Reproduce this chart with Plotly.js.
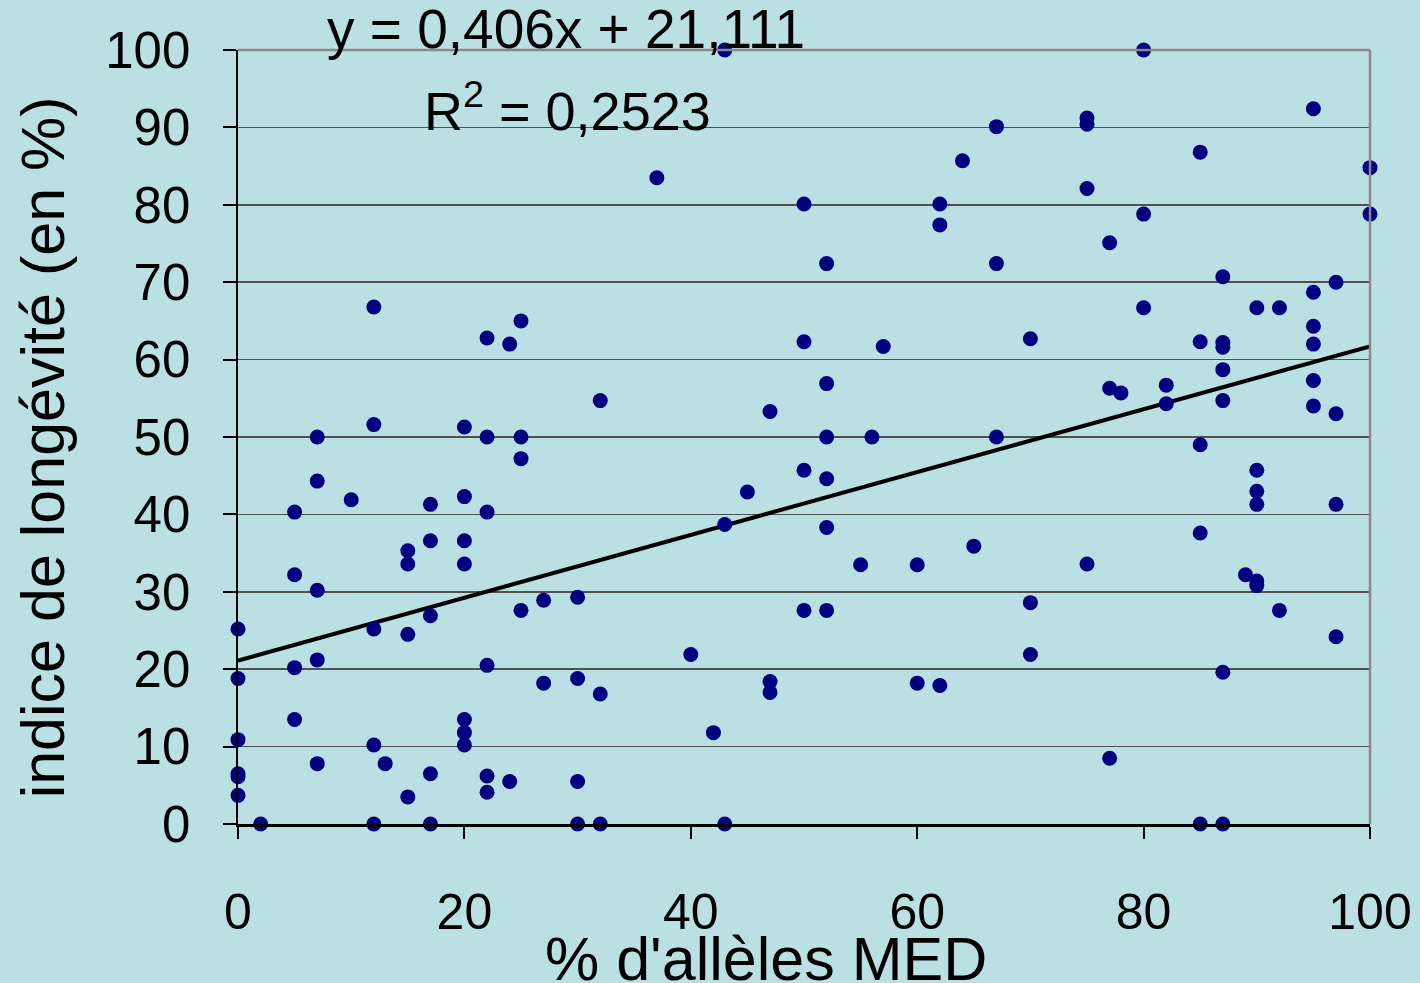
<!DOCTYPE html>
<html>
<head>
<meta charset="utf-8">
<script src="https://cdn.plot.ly/plotly-3.0.1.min.js"></script>
<style>html,body{margin:0;padding:0;background:#BAE0E4;}#chart{width:1420px;height:983px;}</style>
</head>
<body>
<div id="chart"></div>
<script>
// % d'allèles MED (x) and indice de longévité (y)
const allelesMED = [
  0,0,0,0,0,0,
  2,
  5,5,5,5,
  7,7,7,7,7,
  10,
  12,12,12,12,12,
  13,
  15,15,15,15,
  17,17,17,17,17,
  20,20,20,20,20,20,20,
  22,22,22,22,22,22,
  24,24,
  25,25,25,25,
  27,27,
  30,30,30,30,
  32,32,32,
  37,
  40,
  42,
  43,43,43,
  45,
  47,47,47,
  50,50,50,50,
  52,52,52,52,52,52,
  55,
  56,
  57,
  60,60,
  62,62,62,
  64,
  65,
  67,67,67,
  70,70,70,
  75,75,75,75,
  77,77,77,
  78,
  80,80,80,
  82,82,
  85,85,85,85,85,
  87,87,87,87,87,87,87,
  89,
  90,90,90,90,90,90,
  92,92,
  95,95,95,95,95,95,
  97,97,97,97,
  100,100
];
const longevite = [
  25.2,18.8,10.9,6.5,6.1,3.7,
  0,
  40.3,32.2,20.2,13.5,
  50.0,44.3,30.2,21.2,7.8,
  41.9,
  66.8,51.6,25.2,10.2,0,
  7.8,
  35.3,33.6,24.5,3.5,
  41.3,36.6,26.9,6.5,0,
  51.3,42.3,36.6,33.6,13.5,11.8,10.2,
  62.8,50.0,40.3,20.5,6.2,4.1,
  62.0,5.5,
  65.0,50.0,47.2,27.6,
  28.9,18.2,
  29.3,18.8,5.5,0,
  54.7,16.8,0,
  83.5,
  21.9,
  11.8,
  100,38.7,0,
  42.9,
  53.3,18.4,17.0,
  80.1,62.3,45.7,27.6,
  72.4,56.9,50.0,44.6,38.3,27.6,
  33.5,
  50.0,
  61.7,
  33.5,18.2,
  80.1,77.4,17.9,
  85.7,
  35.9,
  90.1,72.4,50.0,
  62.7,28.6,21.9,
  91.2,90.4,82.1,33.6,
  75.1,56.3,8.5,
  55.7,
  100,78.8,66.7,
  56.7,54.3,
  86.8,62.3,49.0,37.6,0,
  70.7,62.2,61.6,58.7,54.7,19.6,0,
  32.2,
  66.7,45.7,43.0,41.3,31.4,30.8,
  66.7,27.6,
  92.4,68.7,64.3,62.0,57.3,54.0,
  70.0,53.0,41.3,24.2,
  84.8,78.8
];
// Trend line (from the chart's equation)
const slope = 0.406;
const intercept = 21.111;
const r2 = 0.2523;
const trendX = [0, 100];
const trendY = trendX.map(v => slope * v + intercept);

const xTicks = [0, 20, 40, 60, 80, 100];
const yTicks = [0, 10, 20, 30, 40, 50, 60, 70, 80, 90, 100];
const fmt = (v, d) => v.toFixed(d).replace('.', ',');

const bg = '#BAE0E4';
const traces = [
  {
    x: trendX, y: trendY, type: 'scatter', mode: 'lines',
    line: {color: '#000000', width: 4}, hoverinfo: 'skip', showlegend: false
  },
  {
    x: allelesMED, y: longevite, type: 'scatter', mode: 'markers',
    marker: {color: '#000080', size: 15}, cliponaxis: false, showlegend: false
  }
];

const layout = {
  width: 1420, height: 983,
  paper_bgcolor: bg, plot_bgcolor: bg,
  margin: {l: 238, r: 50, t: 50, b: 159},
  font: {family: 'Liberation Sans, Arial, sans-serif', color: '#000'},
  showlegend: false,
  xaxis: {
    range: [0, 100], tickvals: xTicks, ticktext: xTicks.map(String),
    showgrid: false, zeroline: false,
    showline: true, linecolor: '#000', linewidth: 2.5,
    ticks: 'outside', ticklen: 12, tickwidth: 2, tickcolor: '#000',
    ticklabelstandoff: 30,
    tickfont: {size: 50, family: 'Liberation Sans, Arial, sans-serif'}
  },
  yaxis: {
    range: [0, 100], tickvals: yTicks, ticktext: yTicks.map(String),
    showgrid: true, gridcolor: '#505050', gridwidth: 1.5, zeroline: false,
    showline: true, linecolor: '#000', linewidth: 2.5,
    ticks: 'outside', ticklen: 13, tickwidth: 2, tickcolor: '#000',
    ticklabelstandoff: 22,
    tickfont: {size: 51, family: 'Liberation Sans, Arial, sans-serif'}
  },
  shapes: [
    {type: 'line', xref: 'paper', yref: 'paper', x0: 0, x1: 1, y0: 1, y1: 1, line: {color: '#888', width: 2.5}},
    {type: 'line', xref: 'paper', yref: 'paper', x0: 1, x1: 1, y0: 0, y1: 1, line: {color: '#888', width: 2.5}}
  ],
  annotations: [
    {text: 'y = ' + fmt(slope, 3) + 'x + ' + fmt(intercept, 3), xref: 'x', yref: 'paper',
     x: 29, y: 1.027, xanchor: 'center', yanchor: 'middle', showarrow: false,
     font: {size: 55, color: '#000'}},
    {text: 'R<sup>2</sup> = ' + fmt(r2, 4), xref: 'x', yref: 'paper',
     x: 29.1, y: 0.926, xanchor: 'center', yanchor: 'middle', showarrow: false,
     font: {size: 54, color: '#000'}},
    {text: "% d'allèles MED", xref: 'paper', yref: 'paper',
     x: 0.466, y: -0.175, xanchor: 'center', yanchor: 'middle', showarrow: false,
     font: {size: 61, color: '#000'}},
    {text: 'indice de longévité (en %)', xref: 'paper', yref: 'paper',
     x: -0.172, y: 0.487, xanchor: 'center', yanchor: 'middle', textangle: -90, showarrow: false,
     font: {size: 61, color: '#000'}}
  ]
};

Plotly.newPlot('chart', traces, layout, {displayModeBar: false, staticPlot: true});
</script>
</body>
</html>
